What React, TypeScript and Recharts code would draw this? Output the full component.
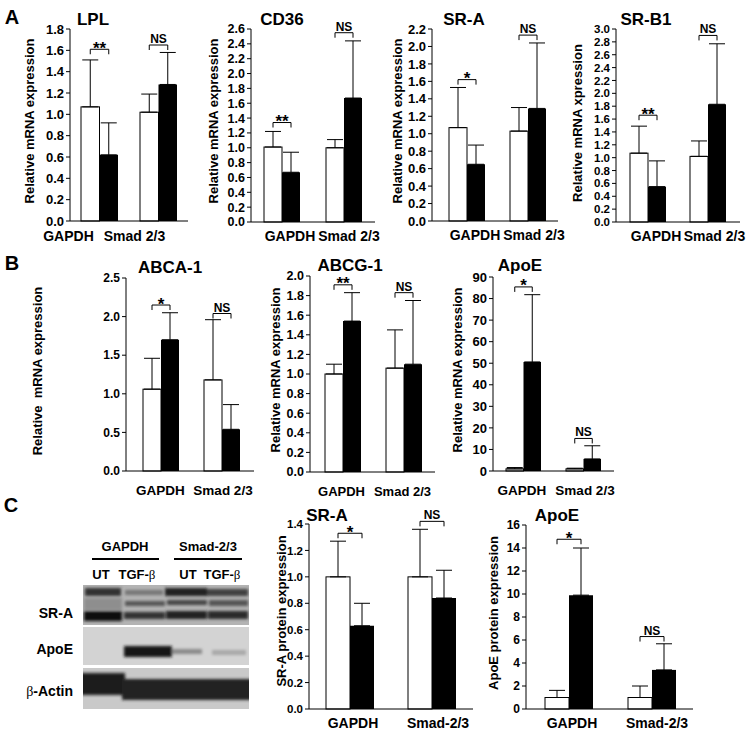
import React from 'react';
import { BarChart, Bar, XAxis, YAxis, ErrorBar } from 'recharts';

const FONT = '"Liberation Sans", Arial, Helvetica, sans-serif';

// categories
const GROUPS = ['GAPDH', 'Smad 2/3'];
const GROUPS_C = ['GAPDH', 'Smad-2/3'];

// tick labels
const TICKS_18 = [0, 0.2, 0.4, 0.6, 0.8, 1.0, 1.2, 1.4, 1.6, 1.8];
const TICKS_26 = [0, 0.2, 0.4, 0.6, 0.8, 1.0, 1.2, 1.4, 1.6, 1.8, 2.0, 2.2, 2.4, 2.6];
const TICKS_22 = [0, 0.2, 0.4, 0.6, 0.8, 1.0, 1.2, 1.4, 1.6, 1.8, 2.0, 2.2];
const TICKS_30 = [0, 0.2, 0.4, 0.6, 0.8, 1.0, 1.2, 1.4, 1.6, 1.8, 2.0, 2.2, 2.4, 2.6, 2.8, 3.0];
const TICKS_25 = [0, 0.5, 1.0, 1.5, 2.0, 2.5];
const TICKS_20 = [0, 0.2, 0.4, 0.6, 0.8, 1.0, 1.2, 1.4, 1.6, 1.8, 2.0];
const TICKS_90 = [0, 10, 20, 30, 40, 50, 60, 70, 80, 90];
const TICKS_14 = [0, 0.2, 0.4, 0.6, 0.8, 1.0, 1.2, 1.4];
const TICKS_16 = [0, 2, 4, 6, 8, 10, 12, 14, 16];

// A - LPL
const LPL_UT = [1.07, 1.02];
const LPL_TGF = [0.62, 1.28];
const LPL_UT_SD = [0.44, 0.17];
const LPL_TGF_SD = [0.30, 0.30];
const LPL_BRACKET = [1.61, 1.65];
const LPL_MARK = ['**', 'NS'];

// A - CD36
const CD36_UT = [1.01, 1.0];
const CD36_TGF = [0.67, 1.67];
const CD36_UT_SD = [0.21, 0.11];
const CD36_TGF_SD = [0.27, 0.77];
const CD36_BRACKET = [1.34, 2.55];
const CD36_MARK = ['**', 'NS'];

// A - SR-A
const SRA_UT = [1.07, 1.03];
const SRA_TGF = [0.65, 1.29];
const SRA_UT_SD = [0.46, 0.27];
const SRA_TGF_SD = [0.22, 0.75];
const SRA_BRACKET = [1.62, 2.13];
const SRA_MARK = ['*', 'NS'];

// A - SR-B1
const SRB1_UT = [1.07, 1.02];
const SRB1_TGF = [0.55, 1.83];
const SRB1_UT_SD = [0.42, 0.24];
const SRB1_TGF_SD = [0.40, 0.94];
const SRB1_BRACKET = [1.66, 2.9];
const SRB1_MARK = ['**', 'NS'];

// B - ABCA-1
const ABCA_UT = [1.06, 1.18];
const ABCA_TGF = [1.7, 0.54];
const ABCA_UT_SD = [0.4, 0.78];
const ABCA_TGF_SD = [0.35, 0.32];
const ABCA_BRACKET = [2.15, 2.04];
const ABCA_MARK = ['*', 'NS'];

// B - ABCG-1
const ABCG_UT = [1.0, 1.06];
const ABCG_TGF = [1.54, 1.1];
const ABCG_UT_SD = [0.1, 0.39];
const ABCG_TGF_SD = [0.29, 0.65];
const ABCG_BRACKET = [1.91, 1.83];
const ABCG_MARK = ['**', 'NS'];

// B - ApoE mRNA
const APOE_UT = [1.0, 1.0];
const APOE_TGF = [50.6, 5.6];
const APOE_UT_SD = [0.6, 0.3];
const APOE_TGF_SD = [31.2, 6.1];
const APOE_BRACKET = [85.4, 15.1];
const APOE_MARK = ['*', 'NS'];

// C - SR-A protein
const SRAP_UT = [1.0, 1.0];
const SRAP_TGF = [0.63, 0.84];
const SRAP_UT_SD = [0.27, 0.36];
const SRAP_TGF_SD = [0.17, 0.21];
const SRAP_BRACKET = [1.33, 1.42];
const SRAP_MARK = ['*', 'NS'];

// C - ApoE protein
const APOEP_UT = [1.0, 1.0];
const APOEP_TGF = [9.9, 3.4];
const APOEP_UT_SD = [0.62, 1.0];
const APOEP_TGF_SD = [4.1, 2.27];
const APOEP_BRACKET = [14.76, 6.3];
const APOEP_MARK = ['*', 'NS'];

const YW = 44;
const MT = 40;
const XH = 34;
const MR = 30;

type Spec = {
  groups: string[]; ut: number[]; tgf: number[]; utSd: number[]; tgfSd: number[];
  bracket: number[]; mark: string[]; ticks: number[];
  axisX: number; axisEnd: number; yTop: number; y0: number;
  padL: number; padR: number; bw: number; labelDx: number[]; labelDy: number;
  tickFont: number; catFont: number;
};

function whiteShape(max: number) {
  return (props: any) => {
    const { x, y, width, height, payload } = props;
    const base = y + height;
    const by = base - (payload.sig / max) * (base - MT);
    const x1 = x + width / 2;
    const x2 = x + width * 1.5;
    const ns = payload.mark === 'NS';
    return (
      <g>
        <rect x={x} y={y} width={width} height={height} fill="#fff" stroke="#000" strokeWidth={1} />
        <path d={`M${x1},${by + 5}V${by}H${x2}V${by + 5}`} fill="none" stroke="#000" strokeWidth={1} />
        <text x={(x1 + x2) / 2} y={ns ? by - 2 : by + 4.5} textAnchor="middle" fontFamily={FONT}
          fontWeight={700} fontSize={ns ? 12 : 17} fill="#000">{payload.mark}</text>
      </g>
    );
  };
}

function Panel({ s }: { s: Spec }) {
  const plotW = s.axisEnd - s.axisX;
  const plotH = s.y0 - s.yTop;
  const max = s.ticks[s.ticks.length - 1];
  const rows = s.groups.map((g, i) => ({
    group: g, ut: s.ut[i], tgf: s.tgf[i],
    utErr: [0, s.utSd[i]], tgfErr: [0, s.tgfSd[i]],
    sig: s.bracket[i], mark: s.mark[i],
  }));
  const renderTick = (p: any) => (
    <text x={p.x + (s.labelDx[p.index] || 0)} y={MT + plotH + s.labelDy} textAnchor="middle"
      dominantBaseline="central" fontFamily={FONT} fontWeight={700} fontSize={s.catFont} fill="#000">
      {p.payload.value}
    </text>
  );
  return (
    <div style={{ position: 'absolute', left: s.axisX - YW, top: s.yTop - MT }}>
      <BarChart width={YW + plotW + MR} height={MT + plotH + XH} data={rows}
        margin={{ top: MT, right: MR, bottom: 0, left: 0 }} barGap={0}>
        <XAxis dataKey="group" height={XH} padding={{ left: s.padL, right: s.padR }}
          axisLine={{ stroke: '#000', strokeWidth: 1 }} tickLine={false} tick={renderTick} interval={0} />
        <YAxis width={YW} domain={[0, max]} ticks={s.ticks} interval={0}
          axisLine={{ stroke: '#000', strokeWidth: 1 }} tickLine={{ stroke: '#000' }} tickSize={4} tickMargin={2}
          tick={{ fontSize: s.tickFont, fontWeight: 700, fill: '#000', fontFamily: FONT }}
          tickFormatter={(v: number) => (max >= 10 ? String(v) : v.toFixed(1))} />
        <Bar dataKey="ut" barSize={s.bw} shape={whiteShape(max)} isAnimationActive={false}>
          <ErrorBar dataKey="utErr" width={8} stroke="#000" strokeWidth={1} />
        </Bar>
        <Bar dataKey="tgf" barSize={s.bw} fill="#000" isAnimationActive={false}>
          <ErrorBar dataKey="tgfErr" width={8} stroke="#000" strokeWidth={1} />
        </Bar>
      </BarChart>
    </div>
  );
}

function Label({ x, y, size, children, rotate, pre }: any) {
  return (
    <div style={{
      position: 'absolute', left: x, top: y, fontSize: size, fontWeight: 700, lineHeight: 1,
      whiteSpace: pre ? 'pre' : 'nowrap', color: '#000',
      transform: `translate(-50%, -50%)${rotate ? ' rotate(-90deg)' : ''}`,
    }}>{children}</div>
  );
}

function Blot() {
  return (
    <svg style={{ position: 'absolute', left: 0, top: 480 }} width={260} height={253}>
      <defs>
        <filter id="bl" x="-30%" y="-80%" width="160%" height="260%">
          <feGaussianBlur stdDeviation="1.6" />
        </filter>
        <clipPath id="boxes">
          <rect x={83} y={585 - 480} width={166} height={40} />
          <rect x={83} y={627 - 480} width={166} height={38} />
          <rect x={83} y={668 - 480} width={166} height={41} />
        </clipPath>
      </defs>
      <g transform="translate(0,-480)" fontFamily={FONT} fontWeight={700}>
        <text x={125} y={546} textAnchor="middle" dominantBaseline="central" fontSize={13} fill="#000">GAPDH</text>
        <text x={208} y={546} textAnchor="middle" dominantBaseline="central" fontSize={13} fill="#000">Smad-2/3</text>
        <rect x={92} y={558} width={67} height={2} fill="#000" />
        <rect x={174} y={558} width={68} height={2} fill="#000" />
        <text x={101} y={574} textAnchor="middle" dominantBaseline="central" fontSize={13} fill="#000">UT</text>
        <text x={137} y={574} textAnchor="middle" dominantBaseline="central" fontSize={13} fill="#000">
          TGF-<tspan fontFamily='"Liberation Serif", serif' fontWeight={400}>β</tspan>
        </text>
        <text x={188} y={574} textAnchor="middle" dominantBaseline="central" fontSize={13} fill="#000">UT</text>
        <text x={222} y={574} textAnchor="middle" dominantBaseline="central" fontSize={13} fill="#000">
          TGF-<tspan fontFamily='"Liberation Serif", serif' fontWeight={400}>β</tspan>
        </text>
        <text x={73} y={613} textAnchor="end" dominantBaseline="central" fontSize={14} fill="#000">SR-A</text>
        <text x={73} y={649} textAnchor="end" dominantBaseline="central" fontSize={14} fill="#000">ApoE</text>
        <text x={73} y={691} textAnchor="end" dominantBaseline="central" fontSize={14} fill="#000">
          <tspan fontFamily='"Liberation Serif", serif' fontWeight={400}>β</tspan>-Actin
        </text>
        <g clipPath="url(#boxes)" transform="translate(0,480)">
          <g transform="translate(0,-480)">
            <rect x={83} y={585} width={166} height={40} fill="#b3b3b3" />
            <rect x={83} y={627} width={166} height={38} fill="#d3d3d3" />
            <rect x={83} y={668} width={166} height={41} fill="#c9c9c9" />
            <g filter="url(#bl)">
              <rect x={85} y={588} width={36} height={8} fill="#303030" />
              <rect x={125} y={590} width={38} height={5} fill="#767676" />
              <rect x={165} y={588} width={42} height={8} fill="#222" />
              <rect x={207} y={589} width={41} height={7} fill="#404040" />
              <rect x={84} y={598} width={38} height={12} fill="#8e8e8e" />
              <rect x={125} y={601} width={40} height={5} fill="#555" />
              <rect x={167} y={600} width={40} height={5} fill="#454545" />
              <rect x={209} y={600} width={39} height={6} fill="#555" />
              <rect x={84} y={611} width={38} height={10} fill="#101010" />
              <rect x={124} y={612} width={41} height={7} fill="#333" />
              <rect x={166} y={611} width={41} height={8} fill="#222" />
              <rect x={208} y={611} width={40} height={8} fill="#2a2a2a" />
              <rect x={124} y={646} width={48} height={11} fill="#141414" />
              <rect x={172} y={649} width={30} height={5} fill="#8a8a8a" />
              <rect x={212} y={650} width={34} height={5} fill="#a8a8a8" />
              <rect x={80} y={673} width={45} height={22} fill="#1e1e1e" />
              <rect x={122} y={679} width={130} height={21} fill="#222" />
            </g>
          </g>
        </g>
      </g>
    </svg>
  );
}

const SPECS: { s: Spec; title: string; tx: number; ty: number; ylab: string; lx: number; ly: number }[] = [
  {
    s: { groups: GROUPS, ut: LPL_UT, tgf: LPL_TGF, utSd: LPL_UT_SD, tgfSd: LPL_TGF_SD, bracket: LPL_BRACKET, mark: LPL_MARK, ticks: TICKS_18,
      axisX: 70, axisEnd: 188, yTop: 29, y0: 221, padL: 0, padR: 0, bw: 18.5, labelDx: [-31, -24], labelDy: 15, tickFont: 13, catFont: 14 },
    title: 'LPL', tx: 93, ty: 19, ylab: 'Relative mRNA expression', lx: 29, ly: 121,
  },
  {
    s: { groups: GROUPS, ut: CD36_UT, tgf: CD36_TGF, utSd: CD36_UT_SD, tgfSd: CD36_TGF_SD, bracket: CD36_BRACKET, mark: CD36_MARK, ticks: TICKS_26,
      axisX: 251, axisEnd: 375, yTop: 29, y0: 222, padL: 0, padR: 0, bw: 18, labelDx: [8, 5], labelDy: 14, tickFont: 12.5, catFont: 14 },
    title: 'CD36', tx: 282, ty: 19, ylab: 'Relative mRNA expression', lx: 213, ly: 121,
  },
  {
    s: { groups: GROUPS, ut: SRA_UT, tgf: SRA_TGF, utSd: SRA_UT_SD, tgfSd: SRA_TGF_SD, bracket: SRA_BRACKET, mark: SRA_MARK, ticks: TICKS_22,
      axisX: 432, axisEnd: 558, yTop: 29, y0: 221, padL: 4, padR: 0, bw: 18, labelDx: [8.5, 6.5], labelDy: 14, tickFont: 13, catFont: 14 },
    title: 'SR-A', tx: 464, ty: 19, ylab: 'Relative mRNA expression', lx: 397, ly: 121,
  },
  {
    s: { groups: GROUPS, ut: SRB1_UT, tgf: SRB1_TGF, utSd: SRB1_UT_SD, tgfSd: SRB1_TGF_SD, bracket: SRB1_BRACKET, mark: SRB1_MARK, ticks: TICKS_30,
      axisX: 616, axisEnd: 740, yTop: 29, y0: 222, padL: 2, padR: 2, bw: 18, labelDx: [8, 6.5], labelDy: 14, tickFont: 11.5, catFont: 14 },
    title: 'SR-B1', tx: 646, ty: 19, ylab: 'Relative mRNA xpression', lx: 577, ly: 123,
  },
  {
    s: { groups: GROUPS, ut: ABCA_UT, tgf: ABCA_TGF, utSd: ABCA_UT_SD, tgfSd: ABCA_TGF_SD, bracket: ABCA_BRACKET, mark: ABCA_MARK, ticks: TICKS_25,
      axisX: 126, axisEnd: 254, yTop: 278, y0: 471, padL: 4, padR: 2, bw: 18, labelDx: [0, 1.5], labelDy: 19, tickFont: 12, catFont: 13.5 },
    title: 'ABCA-1', tx: 170, ty: 267, ylab: 'Relative  mRNA expression', lx: 37, ly: 371,
  },
  {
    s: { groups: GROUPS, ut: ABCG_UT, tgf: ABCG_TGF, utSd: ABCG_UT_SD, tgfSd: ABCG_TGF_SD, bracket: ABCG_BRACKET, mark: ABCG_MARK, ticks: TICKS_20,
      axisX: 310, axisEnd: 435, yTop: 276, y0: 472, padL: 2, padR: 1, bw: 18, labelDx: [-1, -1], labelDy: 19, tickFont: 12.5, catFont: 13 },
    title: 'ABCG-1', tx: 350, ty: 265, ylab: 'Relative mRNA expression', lx: 275, ly: 370,
  },
  {
    s: { groups: GROUPS, ut: APOE_UT, tgf: APOE_TGF, utSd: APOE_UT_SD, tgfSd: APOE_TGF_SD, bracket: APOE_BRACKET, mark: APOE_MARK, ticks: TICKS_90,
      axisX: 493, axisEnd: 614, yTop: 277, y0: 471, padL: 0, padR: 1, bw: 17.5, labelDx: [-1, 2], labelDy: 19, tickFont: 13, catFont: 13.5 },
    title: 'ApoE', tx: 520, ty: 265, ylab: 'Relative mRNA expression', lx: 457, ly: 370,
  },
  {
    s: { groups: GROUPS_C, ut: SRAP_UT, tgf: SRAP_TGF, utSd: SRAP_UT_SD, tgfSd: SRAP_TGF_SD, bracket: SRAP_BRACKET, mark: SRAP_MARK, ticks: TICKS_14,
      axisX: 309, axisEnd: 473, yTop: 524, y0: 709, padL: 0, padR: 0, bw: 24, labelDx: [3, 6], labelDy: 14, tickFont: 11.5, catFont: 14 },
    title: 'SR-A', tx: 327, ty: 515, ylab: 'SR-A protein expression', lx: 281, ly: 611,
  },
  {
    s: { groups: GROUPS_C, ut: APOEP_UT, tgf: APOEP_TGF, utSd: APOEP_UT_SD, tgfSd: APOEP_TGF_SD, bracket: APOEP_BRACKET, mark: APOEP_MARK, ticks: TICKS_16,
      axisX: 526, axisEnd: 693, yTop: 525, y0: 709, padL: 1, padR: 0, bw: 24, labelDx: [3.5, 5.5], labelDy: 14, tickFont: 12, catFont: 14 },
    title: 'ApoE', tx: 557, ty: 515, ylab: 'ApoE protein expression', lx: 493, ly: 613,
  },
];

export default function App() {
  return (
    <div style={{ position: 'absolute', left: 0, top: 0, width: 747, height: 733, background: '#fff', fontFamily: FONT, overflow: 'hidden' }}>
      {SPECS.map((p, i) => <Panel key={i} s={p.s} />)}
      {SPECS.map((p, i) => (
        <React.Fragment key={'t' + i}>
          <Label x={p.tx} y={p.ty} size={17}>{p.title}</Label>
          <Label x={p.lx} y={p.ly} size={13} rotate pre>{p.ylab}</Label>
        </React.Fragment>
      ))}
      <Label x={12} y={17} size={20}>A</Label>
      <Label x={12} y={263} size={20}>B</Label>
      <Label x={11} y={505} size={20}>C</Label>
      <Blot />
    </div>
  );
}
